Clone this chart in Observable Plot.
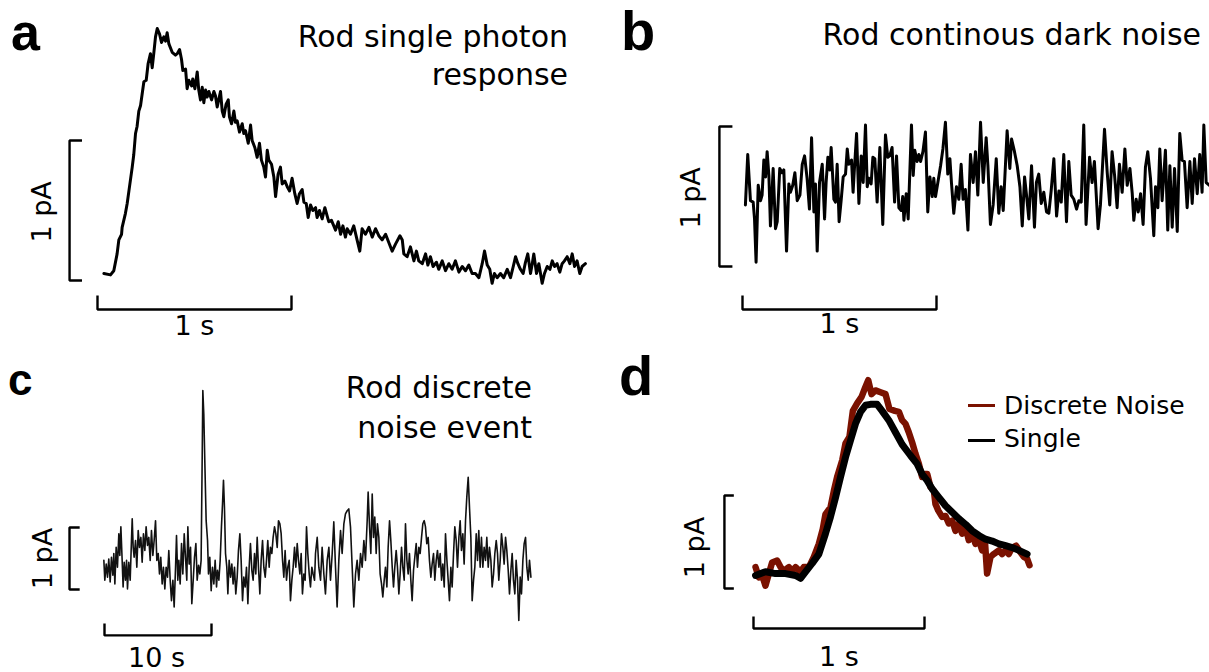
<!DOCTYPE html>
<html>
<head>
<meta charset="utf-8">
<script src="https://cdn.jsdelivr.net/npm/d3@7"></script>
<script src="https://cdn.jsdelivr.net/npm/@observablehq/plot@0.6"></script>
<style>
  html, body { margin: 0; padding: 0; background: #fff; }
  #fig { position: relative; width: 1209px; height: 672px; overflow: hidden; background: #fff; }
  .panel { position: absolute; }
  .txt { position: absolute; white-space: nowrap; line-height: 1; color: #000; font-family: "DejaVu Sans", sans-serif; }
  .letter { font-family: "Liberation Sans", Arial, sans-serif; font-weight: bold; }
  .swatch { position: absolute; height: 3px; }
</style>
</head>
<body>
<div id="fig"></div>
<script>
// ---------------- DATA (time in s, current in pA) ----------------
// a: rod single photon response
const aTrace = [
[0.033,0.05],[0.067,0.04],[0.084,0.07],[0.101,0.19],[0.110,0.29],[0.124,0.33],[0.127,0.38],[0.144,0.48],[0.153,0.55],[0.162,0.64],
[0.179,0.81],[0.187,0.90],[0.196,1.05],[0.204,1.10],[0.213,1.21],[0.222,1.25],[0.230,1.33],[0.239,1.42],[0.251,1.43],[0.261,1.55],
[0.273,1.62],[0.282,1.52],[0.290,1.62],[0.299,1.74],[0.308,1.80],[0.320,1.76],[0.330,1.70],[0.342,1.74],[0.351,1.71],[0.359,1.77],
[0.368,1.69],[0.385,1.63],[0.402,1.61],[0.411,1.62],[0.423,1.65],[0.433,1.58],[0.440,1.50],[0.454,1.51],[0.462,1.37],[0.471,1.43],
[0.485,1.39],[0.491,1.44],[0.502,1.37],[0.514,1.49],[0.522,1.36],[0.531,1.29],[0.540,1.38],[0.548,1.27],[0.557,1.36],[0.565,1.31],
[0.574,1.35],[0.588,1.29],[0.600,1.35],[0.608,1.32],[0.617,1.24],[0.634,1.35],[0.643,1.21],[0.651,1.17],[0.663,1.26],[0.674,1.29],
[0.680,1.17],[0.691,1.12],[0.703,1.21],[0.711,1.13],[0.720,1.14],[0.732,1.06],[0.746,1.12],[0.754,1.05],[0.763,1.07],[0.777,0.98],
[0.789,1.11],[0.797,1.00],[0.811,0.95],[0.823,0.88],[0.835,0.98],[0.845,0.86],[0.857,0.81],[0.866,0.74],[0.875,0.93],[0.883,0.86],
[0.897,0.83],[0.909,0.74],[0.918,0.60],[0.931,0.76],[0.943,0.81],[0.952,0.69],[0.966,0.71],[0.978,0.67],[0.990,0.64],[1.003,0.73],
[1.017,0.62],[1.029,0.55],[1.041,0.62],[1.055,0.65],[1.064,0.56],[1.076,0.55],[1.086,0.45],[1.098,0.54],[1.110,0.50],[1.124,0.52],
[1.132,0.45],[1.144,0.50],[1.158,0.44],[1.172,0.52],[1.184,0.46],[1.192,0.42],[1.206,0.43],[1.218,0.39],[1.227,0.36],[1.241,0.42],
[1.253,0.33],[1.265,0.39],[1.278,0.31],
[1.287,0.37],[1.304,0.33],[1.321,0.39],[1.338,0.29],[1.352,0.21],[1.364,0.37],[1.381,0.33],[1.399,0.38],[1.416,0.31],[1.433,0.37],
[1.450,0.32],[1.467,0.29],[1.485,0.33],[1.502,0.27],[1.519,0.21],[1.536,0.26],[1.559,0.32],[1.571,0.29],[1.579,0.19],[1.596,0.17],
[1.613,0.24],[1.631,0.14],[1.644,0.21],[1.656,0.14],[1.674,0.12],[1.691,0.19],[1.703,0.11],[1.716,0.17],[1.730,0.10],[1.747,0.13],
[1.759,0.08],[1.777,0.14],[1.794,0.07],[1.811,0.12],[1.828,0.08],[1.845,0.14],[1.863,0.06],[1.880,0.10],[1.897,0.07],[1.914,0.11],
[1.931,0.05],[1.948,0.05],[1.966,0.02],[1.983,0.12],[1.995,0.21],[2.009,0.11],[2.022,0.08],[2.034,-0.02],[2.046,0.05],[2.060,0.02],
[2.077,0.05],[2.094,0.02],[2.112,0.08],[2.129,0.02],[2.143,0.10],[2.155,0.17],[2.167,0.12],[2.180,0.08],[2.194,0.05],[2.206,0.13],
[2.218,0.19],[2.232,0.05],[2.241,0.12],[2.249,0.19],[2.263,0.05],[2.275,0.12],[2.292,-0.02],[2.304,0.05],[2.318,0.10],[2.332,0.08],
[2.344,0.14],[2.356,0.10],[2.369,0.12],[2.383,0.06],[2.395,0.12],[2.407,0.14],[2.421,0.17],[2.435,0.12],[2.447,0.19],[2.459,0.10],
[2.472,0.14],[2.486,0.05],[2.498,0.10],[2.515,0.12]
];

// b: rod continuous dark noise
const bTrace = [
[0.015,0.44],[0.027,0.80],[0.041,0.47],[0.055,0.46],[0.062,0.34],[0.070,0.03],[0.081,0.58],[0.093,0.47],[0.101,0.51],[0.110,0.76],
[0.119,0.64],[0.127,0.82],[0.136,0.65],[0.144,0.29],[0.158,0.70],[0.170,0.27],[0.179,0.32],[0.192,0.70],[0.204,0.67],[0.213,0.69],
[0.227,0.11],[0.239,0.59],[0.247,0.53],[0.259,0.58],[0.270,0.67],[0.282,0.47],[0.296,0.51],[0.308,0.73],[0.320,0.79],[0.333,0.63],
[0.345,0.41],[0.356,0.92],[0.368,0.39],[0.376,0.59],[0.385,0.11],[0.397,0.60],[0.411,0.73],[0.423,0.34],[0.431,0.60],[0.440,0.78],
[0.450,0.69],[0.457,0.85],[0.471,0.48],[0.479,0.46],[0.488,0.73],[0.498,0.32],[0.509,0.48],[0.519,0.64],[0.531,0.66],[0.540,0.84],
[0.548,0.73],[0.562,0.76],[0.570,0.53],[0.577,0.70],[0.588,0.95],[0.600,0.45],[0.612,0.79],[0.622,0.60],[0.634,1.01],[0.643,0.57],
[0.651,0.63],[0.663,0.59],[0.672,0.78],[0.682,0.77],[0.694,0.46],[0.708,0.85],[0.723,0.30],[0.737,0.94],[0.749,0.78],[0.759,0.79],
[0.771,0.85],[0.784,0.46],[0.794,0.79],[0.806,0.42],[0.818,0.40],[0.826,0.50],[0.832,0.33],[0.844,0.52],[0.854,0.34],[0.871,1.01],
[0.880,0.65],[0.888,0.83],[0.900,0.75],[0.909,0.80],[0.918,0.75],[0.930,0.82],[0.943,0.96],[0.955,0.39],[0.966,0.64],[0.978,0.50],
[0.986,0.63],[0.995,0.50],[1.007,0.60],[1.021,0.72],[1.033,0.84],[1.046,1.03],[1.058,0.66],[1.069,0.77],[1.077,0.60],[1.089,0.38],
[1.103,0.57],[1.115,0.48],[1.127,0.73],[1.137,0.48],[1.149,0.55],[1.162,0.26],[1.175,0.80],[1.189,0.60],[1.201,0.82],[1.213,0.51],
[1.227,1.03],[1.241,0.60],[1.256,0.92],[1.265,0.72],[1.278,0.30],[1.292,0.44],[1.308,0.77],[1.321,0.38],[1.333,0.57],[1.344,0.40],
[1.364,0.97],[1.378,0.70],[1.387,0.91],[1.402,0.82],[1.416,0.72],[1.430,0.57],[1.442,0.29],[1.454,0.64],[1.464,0.51],[1.476,0.34],
[1.490,0.72],[1.505,0.28],[1.515,0.60],[1.527,0.66],[1.540,0.45],[1.553,0.53],[1.567,0.39],[1.579,0.38],[1.591,0.54],[1.605,0.77],
[1.619,0.36],[1.631,0.54],[1.643,0.46],[1.656,0.80],[1.670,0.32],[1.682,0.75],[1.694,0.51],[1.708,0.48],[1.722,0.41],[1.734,0.47],
[1.746,0.46],[1.759,1.01],[1.771,0.30],[1.789,0.78],[1.802,0.60],[1.814,0.75],[1.833,0.27],[1.845,0.44],[1.866,0.98],[1.880,0.67],
[1.893,0.44],[1.905,0.82],[1.918,0.65],[1.931,0.42],[1.943,0.73],[1.957,0.53],[1.971,0.84],[1.983,0.58],[1.997,0.70],[2.009,0.52],
[2.017,0.33],[2.029,0.48],[2.040,0.39],[2.052,0.52],[2.065,0.30],[2.077,0.71],[2.089,0.82],[2.103,0.63],[2.120,0.22],[2.129,0.57],
[2.141,0.42],[2.151,0.84],[2.163,0.47],[2.180,0.83],[2.192,0.26],[2.203,0.72],[2.215,0.28],[2.227,0.70],[2.241,0.25],[2.254,0.95],
[2.266,0.76],[2.278,0.75],[2.292,0.42],[2.306,0.75],[2.318,0.45],[2.330,0.77],[2.344,0.52],[2.357,0.80],[2.369,0.53],[2.378,1.01],
[2.390,0.60],[2.407,0.58]
];

// c: rod discrete noise event
const cTrace = [
[-0.06,0.47],[0.03,0.15],[0.16,0.41],[0.28,0.20],[0.40,0.49],[0.53,0.12],[0.65,0.52],[0.78,0.23],[0.87,0.58],[0.97,0.09],
[1.09,0.68],[1.21,0.36],[1.34,0.90],[1.43,0.55],[1.53,1.01],[1.65,0.47],[1.74,0.04],[1.84,0.44],[1.96,0.15],[2.06,0.47],
[2.15,0.01],[2.27,0.44],[2.40,0.15],[2.49,0.63],[2.59,1.14],[2.68,0.68],[2.77,0.52],[2.90,0.79],[3.02,0.36],[3.15,0.95],
[3.27,0.68],[3.40,0.84],[3.52,0.44],[3.64,0.90],[3.77,0.63],[3.89,1.01],[4.02,0.71],[4.14,0.84],[4.27,0.47],[4.39,0.95],
[4.52,0.55],[4.64,0.79],[4.77,1.11],[4.89,0.47],[5.02,0.58],[5.14,0.25],[5.26,0.52],[5.39,0.09],[5.51,0.36],[5.64,0.01],
[5.76,0.36],[5.89,0.20],[6.01,0.63],[6.14,0.15],[6.26,-0.18],[6.39,0.15],[6.51,-0.28],[6.64,0.36],[6.73,0.87],[6.85,0.15],
[6.95,0.47],[7.07,0.09],[7.20,0.74],[7.32,0.25],[7.45,0.90],[7.57,0.52],[7.69,0.15],[7.79,1.01],[7.91,0.41],[8.04,0.68],
[8.16,-0.23],[8.29,0.15],[8.41,0.52],[8.54,0.74],[8.66,0.15],[8.79,0.39],[8.91,0.25],[9.03,0.47],[9.13,2.13],[9.19,3.21],
[9.28,2.83],[9.38,2.03],[9.50,1.11],[9.63,0.79],[9.72,0.25],[9.84,0.52],[9.97,-0.02],[10.09,0.36],[10.22,0.09],[10.34,0.47],
[10.47,0.04],[10.56,0.31],[10.69,0.15],[10.81,0.47],[10.93,1.01],[11.03,1.38],[11.12,1.76],[11.21,1.33],[11.31,0.58],[11.43,0.36],
[11.53,-0.07],[11.65,0.47],[11.78,0.20],[11.90,0.41],[12.02,0.09],[12.15,0.36],[12.27,-0.07],[12.40,0.20],[12.52,0.63],[12.65,0.90],
[12.77,0.47],[12.90,-0.18],[13.02,0.20],[13.15,0.04],[13.27,0.36],[13.40,-0.23],[13.52,0.36],[13.64,0.74],[13.77,0.31],[13.89,0.15],
[14.02,0.58],[14.14,0.25],[14.27,0.84],[14.39,0.36],[14.52,-0.07],[14.64,0.47],[14.77,0.79],[14.89,0.36],[15.02,0.20],[15.14,0.47],
[15.26,0.79],[15.39,0.36],[15.51,0.68],[15.64,0.58],[15.76,0.84],[15.89,1.01],[16.01,0.90],[16.14,0.68],[16.26,1.11],[16.39,1.06],
[16.51,0.90],[16.64,0.47],[16.76,0.20],[16.88,0.63],[17.01,0.15],[17.13,0.36],[17.26,0.47],[17.38,-0.18],[17.51,0.15],[17.63,0.36],
[17.76,0.68],[17.88,0.36],[18.01,0.74],[18.13,0.47],[18.26,0.25],[18.38,0.58],[18.50,-0.07],[18.63,0.25],[18.75,0.15],[18.88,1.01],
[19.00,0.58],[19.13,0.25],[19.25,0.04],[19.38,0.36],[19.50,0.25],[19.63,0.15],
[19.72,0.58],[19.88,0.84],[20.03,0.36],[20.19,0.15],[20.34,0.68],[20.50,0.25],[20.65,-0.07],[20.81,0.47],[20.97,0.68],[21.12,0.15],
[21.28,0.58],[21.43,1.09],[21.59,0.36],[21.74,-0.28],[21.90,0.47],[22.06,0.95],[22.21,0.58],[22.37,1.06],[22.52,1.22],[22.68,1.27],
[22.83,1.30],[22.99,1.01],[23.15,0.36],[23.30,-0.28],[23.46,0.25],[23.61,0.47],[23.77,0.15],[23.93,0.58],[24.08,0.36],[24.24,0.79],
[24.39,0.47],[24.55,1.11],[24.64,1.57],[24.77,1.01],[24.89,0.58],[25.02,1.54],[25.14,0.84],[25.26,1.17],[25.39,0.58],[25.51,1.06],
[25.64,0.84],[25.76,0.25],[25.89,0.09],[26.01,-0.12],[26.14,0.15],[26.26,0.36],[26.39,0.04],[26.51,0.68],[26.64,1.11],[26.76,0.79],
[26.89,0.36],[27.01,0.04],[27.13,0.36],[27.26,0.63],[27.38,0.36],[27.51,-0.07],[27.63,0.25],[27.76,0.68],[27.88,0.36],[28.01,0.15],
[28.13,1.06],[28.26,0.47],[28.38,0.25],[28.50,0.58],[28.63,0.15],[28.75,-0.18],[28.88,0.31],[29.00,0.52],[29.13,0.74],[29.25,0.36],
[29.38,0.68],[29.50,0.58],[29.63,0.84],[29.75,1.06],[29.88,1.11],[30.00,1.01],[30.12,0.74],[30.25,0.84],[30.37,0.47],[30.50,0.20],
[30.62,0.41],[30.75,0.58],[30.87,0.15],[31.00,0.47],[31.12,0.63],[31.25,0.36],[31.37,0.58],[31.50,0.15],[31.62,0.41],[31.75,0.04],
[31.87,0.90],[32.00,0.47],[32.12,0.15],[32.24,-0.18],[32.37,0.36],[32.49,0.04],[32.62,0.58],[32.74,1.01],[32.87,0.79],[32.99,0.36],
[33.12,0.84],[33.24,1.11],[33.36,0.63],[33.49,0.90],[33.61,0.41],[33.74,1.11],[33.86,1.49],[33.99,1.81],[34.11,1.33],[34.24,0.84],
[34.36,-0.18],[34.49,0.15],[34.61,0.36],[34.74,0.90],[34.86,0.47],[34.98,0.95],[35.11,0.36],[35.23,0.84],[35.36,0.36],[35.48,0.68],
[35.61,0.47],[35.73,0.84],[35.86,0.36],[35.98,0.68],[36.11,0.47],[36.23,0.04],[36.36,0.25],[36.48,0.58],[36.61,0.79],[36.73,0.58],
[36.85,0.15],[36.98,0.47],[37.10,0.90],[37.23,0.68],[37.35,0.41],[37.48,0.84],[37.60,0.63],[37.73,0.31],[37.85,-0.07],[37.98,0.31],
[38.10,0.58],[38.22,0.15],[38.35,-0.07],[38.47,0.47],[38.60,0.15],[38.72,-0.50],[38.85,0.20],[38.97,-0.07],[39.10,0.47],[39.22,0.74],
[39.35,0.84],[39.47,0.36],[39.60,0.15],[39.72,0.47],[39.85,0.20]
];

// d: averaged discrete noise event vs single photon response
const dSeries = ["Discrete Noise", "Single"];
const dColors = ["#7a1100", "#000000"];
const dDiscrete = [
[0.012,0.23],[0.031,0.12],[0.051,0.14],[0.070,0.03],[0.090,0.16],[0.109,0.28],[0.138,0.30],[0.158,0.23],[0.177,0.19],[0.207,0.23],
[0.226,0.19],[0.246,0.23],[0.275,0.18],[0.294,0.23],[0.324,0.23],[0.353,0.34],[0.382,0.48],[0.405,0.64],[0.421,0.80],[0.450,0.87],
[0.470,1.05],[0.489,1.20],[0.519,1.38],[0.538,1.56],[0.561,1.63],[0.581,1.91],[0.606,1.99],[0.632,2.06],[0.651,2.15],[0.671,2.24],
[0.690,2.09],[0.713,2.13],[0.743,2.11],[0.772,2.09],[0.795,1.93],[0.827,1.91],[0.850,1.90],[0.869,1.81],[0.889,1.77],[0.908,1.68],
[0.928,1.57],[0.947,1.45],[0.967,1.34],[0.986,1.20],[1.002,1.23],[1.016,1.23],[1.035,1.09],[1.055,1.05],[1.064,0.91],[1.080,0.84],
[1.103,0.77],[1.123,0.78],[1.142,0.70],[1.162,0.73],[1.181,0.62],[1.201,0.70],[1.220,0.59],[1.240,0.66],[1.259,0.52],[1.279,0.59],
[1.298,0.48],[1.318,0.52],[1.337,0.41],[1.353,0.52],[1.366,0.16],[1.386,0.34],[1.405,0.37],[1.435,0.41],[1.454,0.37],[1.474,0.41],
[1.493,0.37],[1.513,0.44],[1.536,0.46],[1.561,0.39],[1.581,0.34],[1.600,0.32],[1.614,0.25]
];
const dSingle = [
[0.012,0.14],[0.070,0.18],[0.129,0.16],[0.187,0.16],[0.246,0.14],[0.275,0.11],[0.304,0.18],[0.343,0.27],[0.382,0.37],[0.421,0.59],
[0.450,0.77],[0.480,0.98],[0.509,1.20],[0.538,1.41],[0.567,1.59],[0.596,1.77],[0.626,1.90],[0.655,1.97],[0.684,1.98],[0.723,1.98],
[0.752,1.91],[0.791,1.81],[0.830,1.68],[0.869,1.55],[0.918,1.43],[0.957,1.34],[0.986,1.23],[1.016,1.16],[1.045,1.07],[1.084,0.98],
[1.123,0.89],[1.162,0.82],[1.201,0.75],[1.240,0.69],[1.279,0.62],[1.318,0.57],[1.357,0.53],[1.396,0.51],[1.435,0.48],[1.474,0.46],
[1.513,0.44],[1.552,0.41],[1.600,0.37]
];

// scale bar sizes and labels
const barTime = [1, 1, 10, 1];          // s
const barCurrent = [1, 1, 1, 1];        // pA
const barTimeLabels = ["1 s", "1 s", "10 s", "1 s"];
const barCurrentLabel = "1 pA";
const panelLetters = ["a", "b", "c", "d"];
const titles = [["Rod single photon", "response"], ["Rod continous dark noise"], ["Rod discrete", "noise event"]];

// ---------------- LAYOUT ----------------
const fig = document.getElementById("fig");
const FONT = "DejaVu Sans";

// positions of scale bars / labels expressed in each panel's data units
const layouts = [
  {left: 0, top: 0, w: 604, h: 340, xr: [97, 291], yr: [280, 140],
   vx: -0.144, vTick: 0.064, hy: -0.207, hTick: 0.1,
   pA: [-0.284, 0.49], sLab: [0.5, -0.33]},
  {left: 604, top: 0, w: 605, h: 340, xr: [138, 332], yr: [266, 126],
   vx: -0.119, vTick: 0.067, hy: -0.307, hTick: 0.1,
   pA: [-0.265, 0.49], sLab: [0.5, -0.41]},
  {left: 0, top: 340, w: 604, h: 332, xr: [104, 211], yr: [249, 187], xd: 10,
   vx: -3.27, vTick: 0.95, hy: -0.74, hTick: 0.19,
   pA: [-5.7, 0.5], sLab: [4.86, -1.11]},
  {left: 604, top: 340, w: 605, h: 332, xr: [149, 320], yr: [248, 155],
   vx: -0.17, vTick: 0.055, hy: -0.43, hTick: 0.13,
   pA: [-0.34, 0.44], sLab: [0.5, -0.74]}
];

const X = d => d[0], Y = d => d[1];

function barMarks(i) {
  const L = layouts[i];
  const tl = barTime[i], il = barCurrent[i];
  const vBar = [[L.vx + L.vTick, il], [L.vx, il], [L.vx, 0], [L.vx + L.vTick, 0]];
  const hBar = [[0, L.hy + L.hTick], [0, L.hy], [tl, L.hy], [tl, L.hy + L.hTick]];
  const style = {x: X, y: Y, stroke: "#000", strokeWidth: 2.4, strokeLinejoin: "miter", strokeLinecap: "butt"};
  return [
    Plot.line(vBar, style),
    Plot.line(hBar, style),
    Plot.text([{t: L.pA[0], c: L.pA[1], s: barCurrentLabel}], {x: "t", y: "c", text: "s", rotate: -90,
      fontSize: 27, fontFamily: FONT, fill: "#000", textAnchor: "middle", lineAnchor: "middle"}),
    Plot.text([{t: L.sLab[0], c: L.sLab[1], s: barTimeLabels[i]}], {x: "t", y: "c", text: "s",
      fontSize: 27, fontFamily: FONT, fill: "#000", textAnchor: "middle", lineAnchor: "middle"})
  ];
}

function makePanel(i, traceMarks) {
  const L = layouts[i];
  const plot = Plot.plot({
    width: L.w, height: L.h, margin: 0,
    x: {type: "linear", domain: [0, L.xd || 1], range: L.xr, axis: null},
    y: {type: "linear", domain: [0, 1], range: L.yr, axis: null},
    style: {background: "transparent", overflow: "hidden"},
    marks: [...traceMarks, ...barMarks(i)]
  });
  plot.classList.add("panel");
  plot.style.left = L.left + "px";
  plot.style.top = L.top + "px";
  fig.appendChild(plot);
}

makePanel(0, [Plot.line(aTrace, {x: X, y: Y, stroke: "#000", strokeWidth: 3})]);
makePanel(1, [Plot.line(bTrace, {x: X, y: Y, stroke: "#000", strokeWidth: 3, clip: true})]);
makePanel(2, [Plot.line(cTrace, {x: X, y: Y, stroke: "#111", strokeWidth: 1.6})]);
makePanel(3, [
  Plot.line(dDiscrete, {x: X, y: Y, stroke: dColors[0], strokeWidth: 6.5}),
  Plot.line(dSingle, {x: X, y: Y, stroke: dColors[1], strokeWidth: 7})
]);

// ---------------- TEXT (letters, titles, legend) ----------------
function addText(str, css, cls) {
  const el = document.createElement("div");
  el.className = "txt" + (cls ? " " + cls : "");
  el.textContent = str;
  Object.assign(el.style, css);
  fig.appendChild(el);
  return el;
}
// panel letters
addText(panelLetters[0], {left: "11px", top: "6px", fontSize: "52px"}, "letter");
addText(panelLetters[1], {left: "621px", top: "3px", fontSize: "56px"}, "letter");
addText(panelLetters[2], {left: "8px", top: "358px", fontSize: "44px"}, "letter");
addText(panelLetters[3], {left: "619px", top: "348px", fontSize: "56px"}, "letter");

// titles (right aligned)
const TS = "30px";
addText(titles[0][0], {right: "641px", top: "22px", fontSize: TS});
addText(titles[0][1], {right: "641px", top: "60px", fontSize: TS});
addText(titles[1][0], {right: "8px", top: "20px", fontSize: TS});
addText(titles[2][0], {right: "677px", top: "373px", fontSize: TS});
addText(titles[2][1], {right: "677px", top: "413px", fontSize: TS});

// legend for panel d
const legendTops = [393, 426];
const swatchTops = [404, 439];
dSeries.forEach((name, k) => {
  const sw = document.createElement("div");
  sw.className = "swatch";
  Object.assign(sw.style, {left: "968px", width: "27px", top: swatchTops[k] + "px", background: dColors[k]});
  fig.appendChild(sw);
  addText(name, {left: "1004px", top: legendTops[k] + "px", fontSize: "25px"});
});
</script>
</body>
